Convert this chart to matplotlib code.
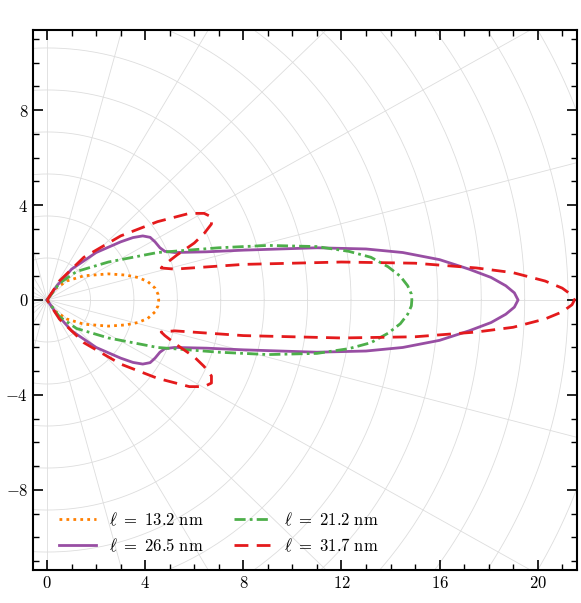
import numpy as np
import matplotlib
matplotlib.use("Agg")
import matplotlib.pyplot as plt

plt.rcParams['font.family'] = 'DejaVu Serif'
plt.rcParams['mathtext.fontset'] = 'cm'

labels = [r'$\ell\ =\ 13.2\ \mathrm{nm}$', r'$\ell\ =\ 26.5\ \mathrm{nm}$',
          r'$\ell\ =\ 21.2\ \mathrm{nm}$', r'$\ell\ =\ 31.7\ \mathrm{nm}$']
# upper-half outlines (x, y); lower half is mirrored
orange_x = [0, 0.3, 0.8, 1.5, 2.5, 3.2, 3.7, 4.1, 4.4, 4.52, 4.55]
orange_y = [0, 0.45, 0.8, 1.02, 1.1, 1.05, 0.95, 0.78, 0.5, 0.25, 0]
purple_x = [0, 0.4, 1.0, 2.0, 3.0, 3.5, 3.9, 4.2, 4.4, 4.6, 4.8, 5.2, 6.5, 8, 11, 13, 14.5, 16, 17.2, 18.1, 18.7, 19.05, 19.2]
purple_y = [0, 0.6, 1.3, 2.0, 2.45, 2.63, 2.7, 2.64, 2.45, 2.2, 2.05, 2.0, 2.03, 2.1, 2.2, 2.15, 2.0, 1.7, 1.3, 0.95, 0.6, 0.3, 0]
green_x = [0, 0.5, 1.2, 2.5, 4.5, 7, 9, 11, 12.3, 13.2, 13.9, 14.4, 14.7, 14.85, 14.87]
green_y = [0, 0.7, 1.2, 1.6, 2.0, 2.2, 2.3, 2.25, 2.05, 1.8, 1.4, 1.0, 0.6, 0.25, 0]
red_x = [0, 0.5, 1.5, 3.0, 4.5, 5.8, 6.4, 6.7, 6.7, 6.4, 6.0, 5.3, 4.8, 4.65, 5.2, 8, 12, 15, 17.5, 19, 20.3, 21.0, 21.4, 21.5]
red_y = [0, 0.8, 1.8, 2.7, 3.3, 3.65, 3.65, 3.5, 3.2, 2.8, 2.4, 1.9, 1.5, 1.35, 1.3, 1.5, 1.6, 1.55, 1.35, 1.15, 0.8, 0.5, 0.2, 0]

series = [(orange_x, orange_y, '#ff7f00', (0, (1, 1.5))),
          (purple_x, purple_y, '#984ea3', '-'),
          (green_x, green_y, '#4daf4a', (0, (4, 1.5, 1, 1.5))),
          (red_x, red_y, '#e41a1c', (0, (5, 3)))]

fig, ax = plt.subplots(figsize=(5.81, 6.03), dpi=100)
fig.subplots_adjust(left=0.057, right=0.993, top=0.95, bottom=0.055)

# polar grid
t = np.linspace(0, 2 * np.pi, 400)
for r in np.arange(1.77, 40, 1.77):
    ax.plot(r * np.cos(t), r * np.sin(t), color='#dddddd', lw=0.6, zorder=0)
for a in np.deg2rad(np.arange(0, 360, 15)):
    ax.plot([0, 40 * np.cos(a)], [0, 40 * np.sin(a)], color='#dddddd', lw=0.6, zorder=0)

for (xs, ys, c, ls), lab in zip(series, labels):
    x = np.array(xs); y = np.array(ys)
    X = np.concatenate([x, x[::-1][1:]])
    Y = np.concatenate([y, -y[::-1][1:]])
    ax.plot(X, Y, color=c, ls=ls, lw=2, label=lab, solid_joinstyle='round')

ax.set_xlim(-0.57, 21.6)
ax.set_ylim(-11.37, 11.37)
ax.set_xticks(np.arange(0, 21, 4))
ax.set_yticks(np.arange(-8, 9, 4))
ax.set_xticklabels([f'${v}$' for v in range(0, 21, 4)])
ax.set_yticklabels([f'${v}$' if v >= 0 else f'$-{abs(v)}$' for v in range(-8, 9, 4)])
ax.set_xticks(np.arange(0, 22, 1), minor=True)
ax.set_yticks(np.arange(-11, 12, 1), minor=True)
ax.tick_params(which='both', direction='in', top=True, right=True, labelsize=12)
ax.tick_params(which='major', length=7, width=1.2)
ax.tick_params(which='minor', length=4, width=1)
for s in ax.spines.values():
    s.set_linewidth(1.5)
ax.legend(loc='lower left', ncol=2, frameon=False, handlelength=2.2, columnspacing=1.8,
          prop={'size': 12}, bbox_to_anchor=(0.02, 0.0))
fig.savefig('out.png', dpi=100)
